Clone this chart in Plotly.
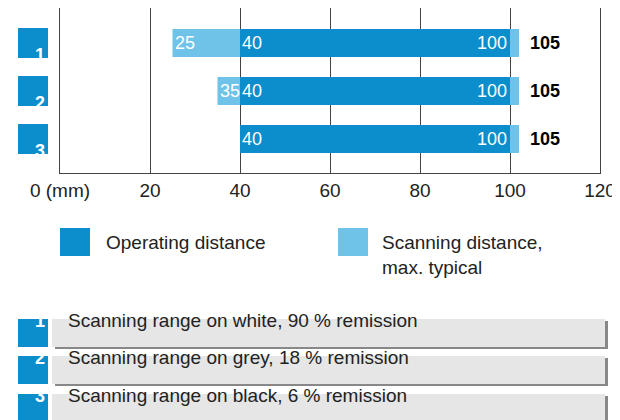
import plotly.graph_objects as go

rows = [1, 2, 3]
row_labels = ["1", "2", "3"]
scan_start = [25, 35, 40]
scan_end = [102, 102, 102]
op_start = [40, 40, 40]
op_end = [100, 100, 100]
max_label = [105, 105, 105]
x_ticks = [0, 20, 40, 60, 80, 100, 120]
x_tick_text = ["0 (mm)", "20", "40", "60", "80", "100", "120"]
legend_items = ["Operating distance", "Scanning distance,<br>max. typical"]
table_texts = ["Scanning range on white, 90 % remission",
               "Scanning range on grey, 18 % remission",
               "Scanning range on black, 6 % remission"]

DARK = "#0b8ecb"
LIGHT = "#6fc3e8"
W, H = 620, 420
FONT = "Liberation Sans"

def px(x): return x / W
def py(y): return 1 - y / H

fig = go.Figure()
fig.add_trace(go.Bar(y=rows, x=[e - s for s, e in zip(scan_start, scan_end)], base=scan_start,
                     orientation="h", marker=dict(color=LIGHT, line_width=0), width=0.58, hoverinfo="skip"))
fig.add_trace(go.Bar(y=rows, x=[e - s for s, e in zip(op_start, op_end)], base=op_start,
                     orientation="h", marker=dict(color=DARK, line_width=0), width=0.58, hoverinfo="skip"))

ann = []
for r, s, os_, oe, m in zip(rows, scan_start, op_start, op_end, max_label):
    if s < os_:
        ann.append(dict(x=s, y=r, text=str(s), xanchor="left", showarrow=False, xshift=0,
                        font=dict(color="white", size=18, family=FONT)))
    ann.append(dict(x=os_, y=r, text=str(os_), xanchor="left", showarrow=False, xshift=0,
                    font=dict(color="white", size=18, family=FONT)))
    ann.append(dict(x=oe, y=r, text=str(oe), xanchor="right", showarrow=False, xshift=-1,
                    font=dict(color="white", size=18, family=FONT)))
    ann.append(dict(x=m, y=r, text="<b>" + str(m) + "</b>", xanchor="left", showarrow=False, xshift=-5,
                    font=dict(color="black", size=18, family=FONT)))

shapes = []
row_py = [35, 83, 131]
for lab, yc in zip(row_labels, row_py):
    shapes.append(dict(type="rect", xref="paper", yref="paper", x0=px(10), x1=px(40),
                       y0=py(yc + 15), y1=py(yc - 15), fillcolor=DARK, line_width=0))
    ann.append(dict(xref="paper", yref="paper", x=px(25), y=py(yc), text="<b>" + lab + "</b>",
                    showarrow=False, font=dict(color="white", size=18, family=FONT)))

# legend
for x0, col in [(52, DARK), (330, LIGHT)]:
    shapes.append(dict(type="rect", xref="paper", yref="paper", x0=px(x0), x1=px(x0 + 30),
                       y0=py(248), y1=py(220), fillcolor=col, line_width=0))
ann.append(dict(xref="paper", yref="paper", x=px(96), y=py(234), text=legend_items[0], showarrow=False,
                xanchor="left", font=dict(size=19, family=FONT, color="#222")))
ann.append(dict(xref="paper", yref="paper", x=px(372), y=py(222), text=legend_items[1], showarrow=False,
                xanchor="left", yanchor="top", align="left", font=dict(size=19, family=FONT, color="#222")))

# table
for lab, txt, yc in zip(row_labels, table_texts, [325, 362, 400]):
    shapes.append(dict(type="rect", xref="paper", yref="paper", x0=px(47), x1=px(600),
                       y0=py(yc + 16), y1=py(yc - 12), fillcolor="#888", line_width=0))
    shapes.append(dict(type="rect", xref="paper", yref="paper", x0=px(44), x1=px(597),
                       y0=py(yc + 14), y1=py(yc - 14), fillcolor="#e6e6e6", line_width=0))
    shapes.append(dict(type="rect", xref="paper", yref="paper", x0=px(10), x1=px(40),
                       y0=py(yc + 14), y1=py(yc - 14), fillcolor=DARK, line_width=0))
    ann.append(dict(xref="paper", yref="paper", x=px(25), y=py(yc), text="<b>" + lab + "</b>",
                    showarrow=False, font=dict(color="white", size=18, family=FONT)))
    ann.append(dict(xref="paper", yref="paper", x=px(58), y=py(yc), text=txt, showarrow=False,
                    xanchor="left", font=dict(size=19, family=FONT, color="#222")))

fig.update_layout(
    width=W, height=H, margin=dict(l=0, r=0, t=0, b=0, autoexpand=False), barmode="overlay",
    showlegend=False, plot_bgcolor="white", paper_bgcolor="white", shapes=shapes, annotations=ann,
    xaxis=dict(domain=[px(52), px(592)], range=[0, 120], tickvals=x_ticks, ticktext=x_tick_text,
               showgrid=True, gridcolor="#444", gridwidth=1, zeroline=False, showline=True,
               linecolor="#444", mirror=True, ticks="", automargin=False,
               tickfont=dict(size=19, family=FONT, color="#222")),
    yaxis=dict(domain=[py(165), 1], range=[3.708, 0.271], showticklabels=False, showgrid=False,
               zeroline=False, showline=True, linecolor="#444", mirror=True, automargin=False),
)
fig.write_html("out.html")
